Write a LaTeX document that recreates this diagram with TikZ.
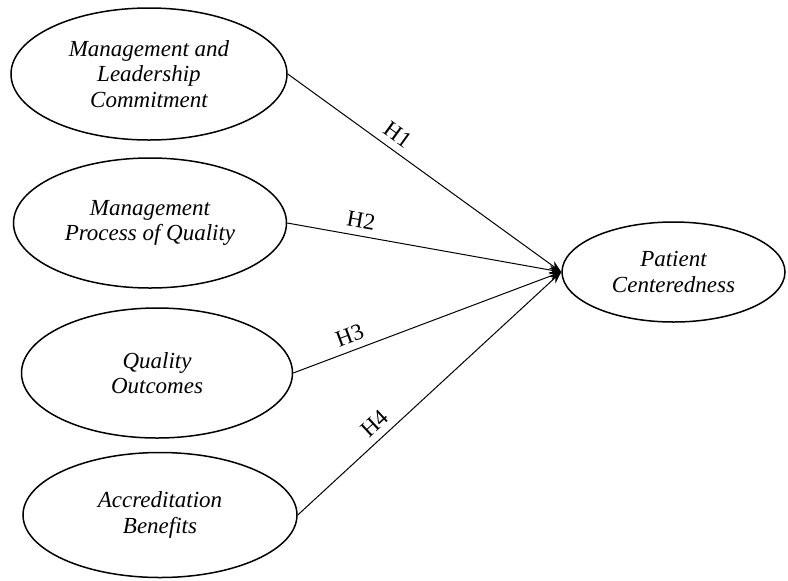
\documentclass[tikz,border=0pt]{standalone}
\usepackage{fontspec}
\setmainfont{Liberation Serif}
\usetikzlibrary{shapes.geometric,arrows.meta}
\begin{document}
\begin{tikzpicture}[x=0.5pt,y=-0.5pt,
 latent/.style={ellipse,draw,line width=0.75pt,inner sep=0pt,align=center,font=\fontsize{11.5}{12.8}\selectfont\itshape},
 hpath/.style={line width=0.5pt,-{Stealth[length=6pt,width=4.5pt]}},
 hlabel/.style={sloped,above,font=\fontsize{11.5}{13}\selectfont,inner sep=3.5pt}]
\useasboundingbox (0,0) rectangle (788,580);
\node[latent,minimum width=138pt,minimum height=66pt] (e1) at (149,74) {Management and\\Leadership\\Commitment};
\node[latent,minimum width=136.5pt,minimum height=65pt] (e2) at (150,223) {Management\\Process of Quality};
\node[latent,minimum width=135.5pt,minimum height=65pt] (e3) at (157,373) {Quality\\Outcomes};
\node[latent,minimum width=137pt,minimum height=62.5pt] (e4) at (160,515) {Accreditation\\Benefits};
\node[latent,minimum width=111.5pt,minimum height=50pt] (pc) at (673.5,272) {Patient\\Centeredness};
\draw[hpath] (e1.east) -- node[hlabel,pos=0.37] {H1} (pc.west);
\draw[hpath] (e2.east) -- node[hlabel,pos=0.26] {H2} (pc.west);
\draw[hpath] (e3.east) -- node[hlabel,pos=0.23] {H3} (pc.west);
\draw[hpath] (e4.east) -- node[hlabel,pos=0.33] {H4} (pc.west);
\end{tikzpicture}
\end{document}
